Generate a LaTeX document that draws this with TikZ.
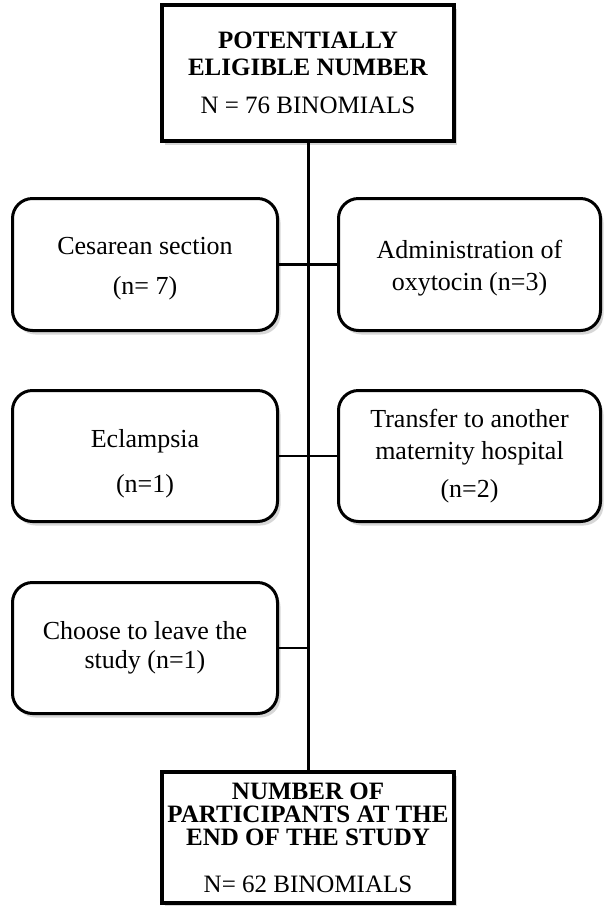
\documentclass[tikz,border=0pt]{standalone}
\usepackage{fontspec}
\setmainfont{Liberation Serif}
\usetikzlibrary{shadows}
\begin{document}
\begin{tikzpicture}[x=1pt,y=-1pt,
  softshadow/.style={drop shadow={shadow xshift=3pt,shadow yshift=-4pt,fill=black!35,opacity=0.45}},
  mainbox/.style={draw,line width=4pt,fill=white,inner sep=0pt,align=center,
    minimum width=292pt,font=\fontsize{25}{27}\selectfont,softshadow},
  sidebox/.style={draw,line width=3pt,rounded corners=20pt,fill=white,inner sep=0pt,
    align=center,minimum height=132pt,font=\fontsize{26}{30}\selectfont,softshadow},
  link/.style={line width=2.5pt}]
\useasboundingbox (0,0) rectangle (604,906);

\node[mainbox,minimum height=136pt] (top) at (308,73)
  {\textbf{POTENTIALLY}\\\textbf{ELIGIBLE NUMBER}\\[11pt]N = 76 BINOMIALS};
\node[mainbox,minimum height=131pt] (bot) at (308,837.5)
  {\textbf{NUMBER OF}\\[-4pt]\textbf{PARTICIPANTS AT THE}\\[-4pt]\textbf{END OF THE STUDY}\\[20pt]N= 62 BINOMIALS};

\node[sidebox,minimum width=265pt] (L1) at (145,264.5) {\rule{0pt}{26pt}Cesarean section\\[10pt](n= 7)};
\node[sidebox,minimum width=262pt] (R1) at (469.5,264.5) {\rule{0pt}{26pt}Administration of\\[2pt]oxytocin (n=3)};
\node[sidebox,minimum width=265pt,minimum height=131pt] (L2) at (145,456) {\rule{0pt}{34pt}Eclampsia\\[15pt](n=1)};
\node[sidebox,minimum width=262pt,minimum height=131pt] (R2) at (469.5,456) {Transfer to another\\[2pt]maternity hospital\\[8pt](n=2)};
\node[sidebox,minimum width=265pt,minimum height=131pt] (L3) at (145,648) {Choose to leave the\\[-1pt]study (n=1)};

\draw[line width=3pt] (top.south) -- (bot.north);
\draw[link] (L1.east) -- (R1.west);
\draw[link] (L2.east) -- (R2.west);
\coordinate (j3) at (L3.east -| top.south);
\draw[link] (L3.east) -- (j3);
\end{tikzpicture}
\end{document}
